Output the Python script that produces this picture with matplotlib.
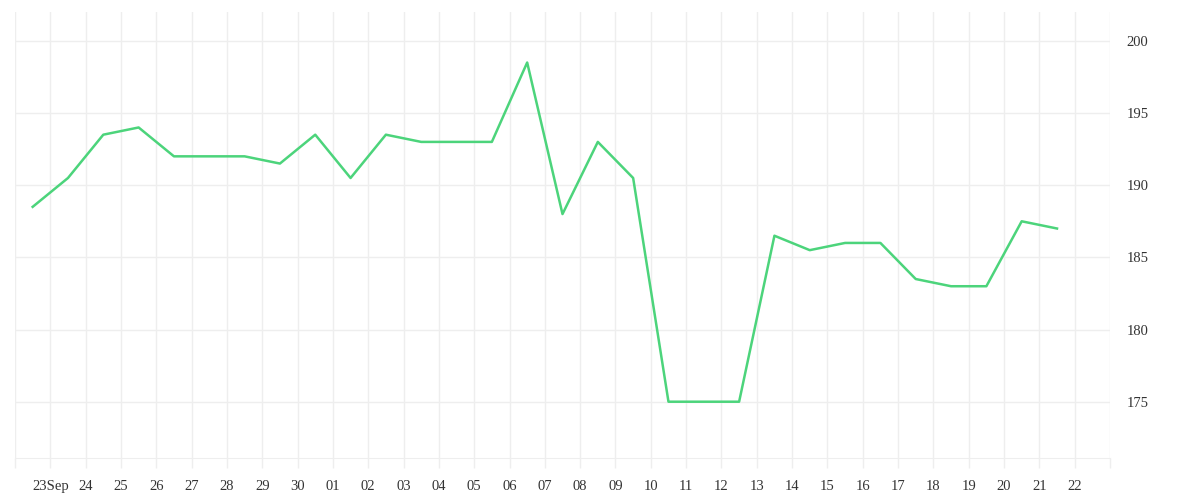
import numpy as np
import matplotlib.pyplot as plt

# daily values, 23 Sep - 22 Oct
day_labels = ["23Sep", "24", "25", "26", "27", "28", "29", "30",
              "01", "02", "03", "04", "05", "06", "07", "08", "09", "10",
              "11", "12", "13", "14", "15", "16", "17", "18", "19", "20",
              "21", "22"]
values = [188.5, 190.5, 193.5, 194.0, 192.0, 192.0, 192.0, 191.5, 193.5, 190.5,
          193.5, 193.0, 193.0, 193.0, 198.5, 188.0, 193.0, 190.5, 175.0, 175.0,
          175.0, 186.5, 185.5, 186.0, 186.0, 183.5, 183.0, 183.0, 187.5, 187.0]
y_ticks = [175, 180, 185, 190, 195, 200]

grid_col = "#eeeeee"
line_col = "#4cd47b"

plt.rcParams['font.family'] = ['Liberation Serif', 'DejaVu Serif']

fig = plt.figure(figsize=(12, 5), dpi=100)
ax = fig.add_axes([0.0125, 0.084, 0.9125, 0.892])

x = np.arange(len(values))
ax.plot(x, values, color=line_col, lw=1.8, zorder=3)

# grid lines sit between the data points, labels on the inner lines
edges = np.arange(-0.5, len(values) + 1, 1.0)
ax.set_xticks(edges)
ax.set_xticklabels([""] + day_labels + [""])
ax.set_xlim(-0.5, len(values) + 0.5)
ax.set_ylim(171.1, 202.0)
ax.set_yticks(y_ticks)

ax.yaxis.tick_right()
ax.grid(True, color=grid_col, lw=1.0)
ax.set_axisbelow(True)
ax.tick_params(axis='x', length=7, color=grid_col, width=1.0, pad=9,
               labelsize=10.5, labelcolor="#333333")
ax.tick_params(axis='y', length=0, pad=12, labelsize=10.5, labelcolor="#333333")
for s in ["top", "left", "right"]:
    ax.spines[s].set_visible(False)
ax.spines["bottom"].set_color(grid_col)

fig.savefig("out.png", dpi=100)
